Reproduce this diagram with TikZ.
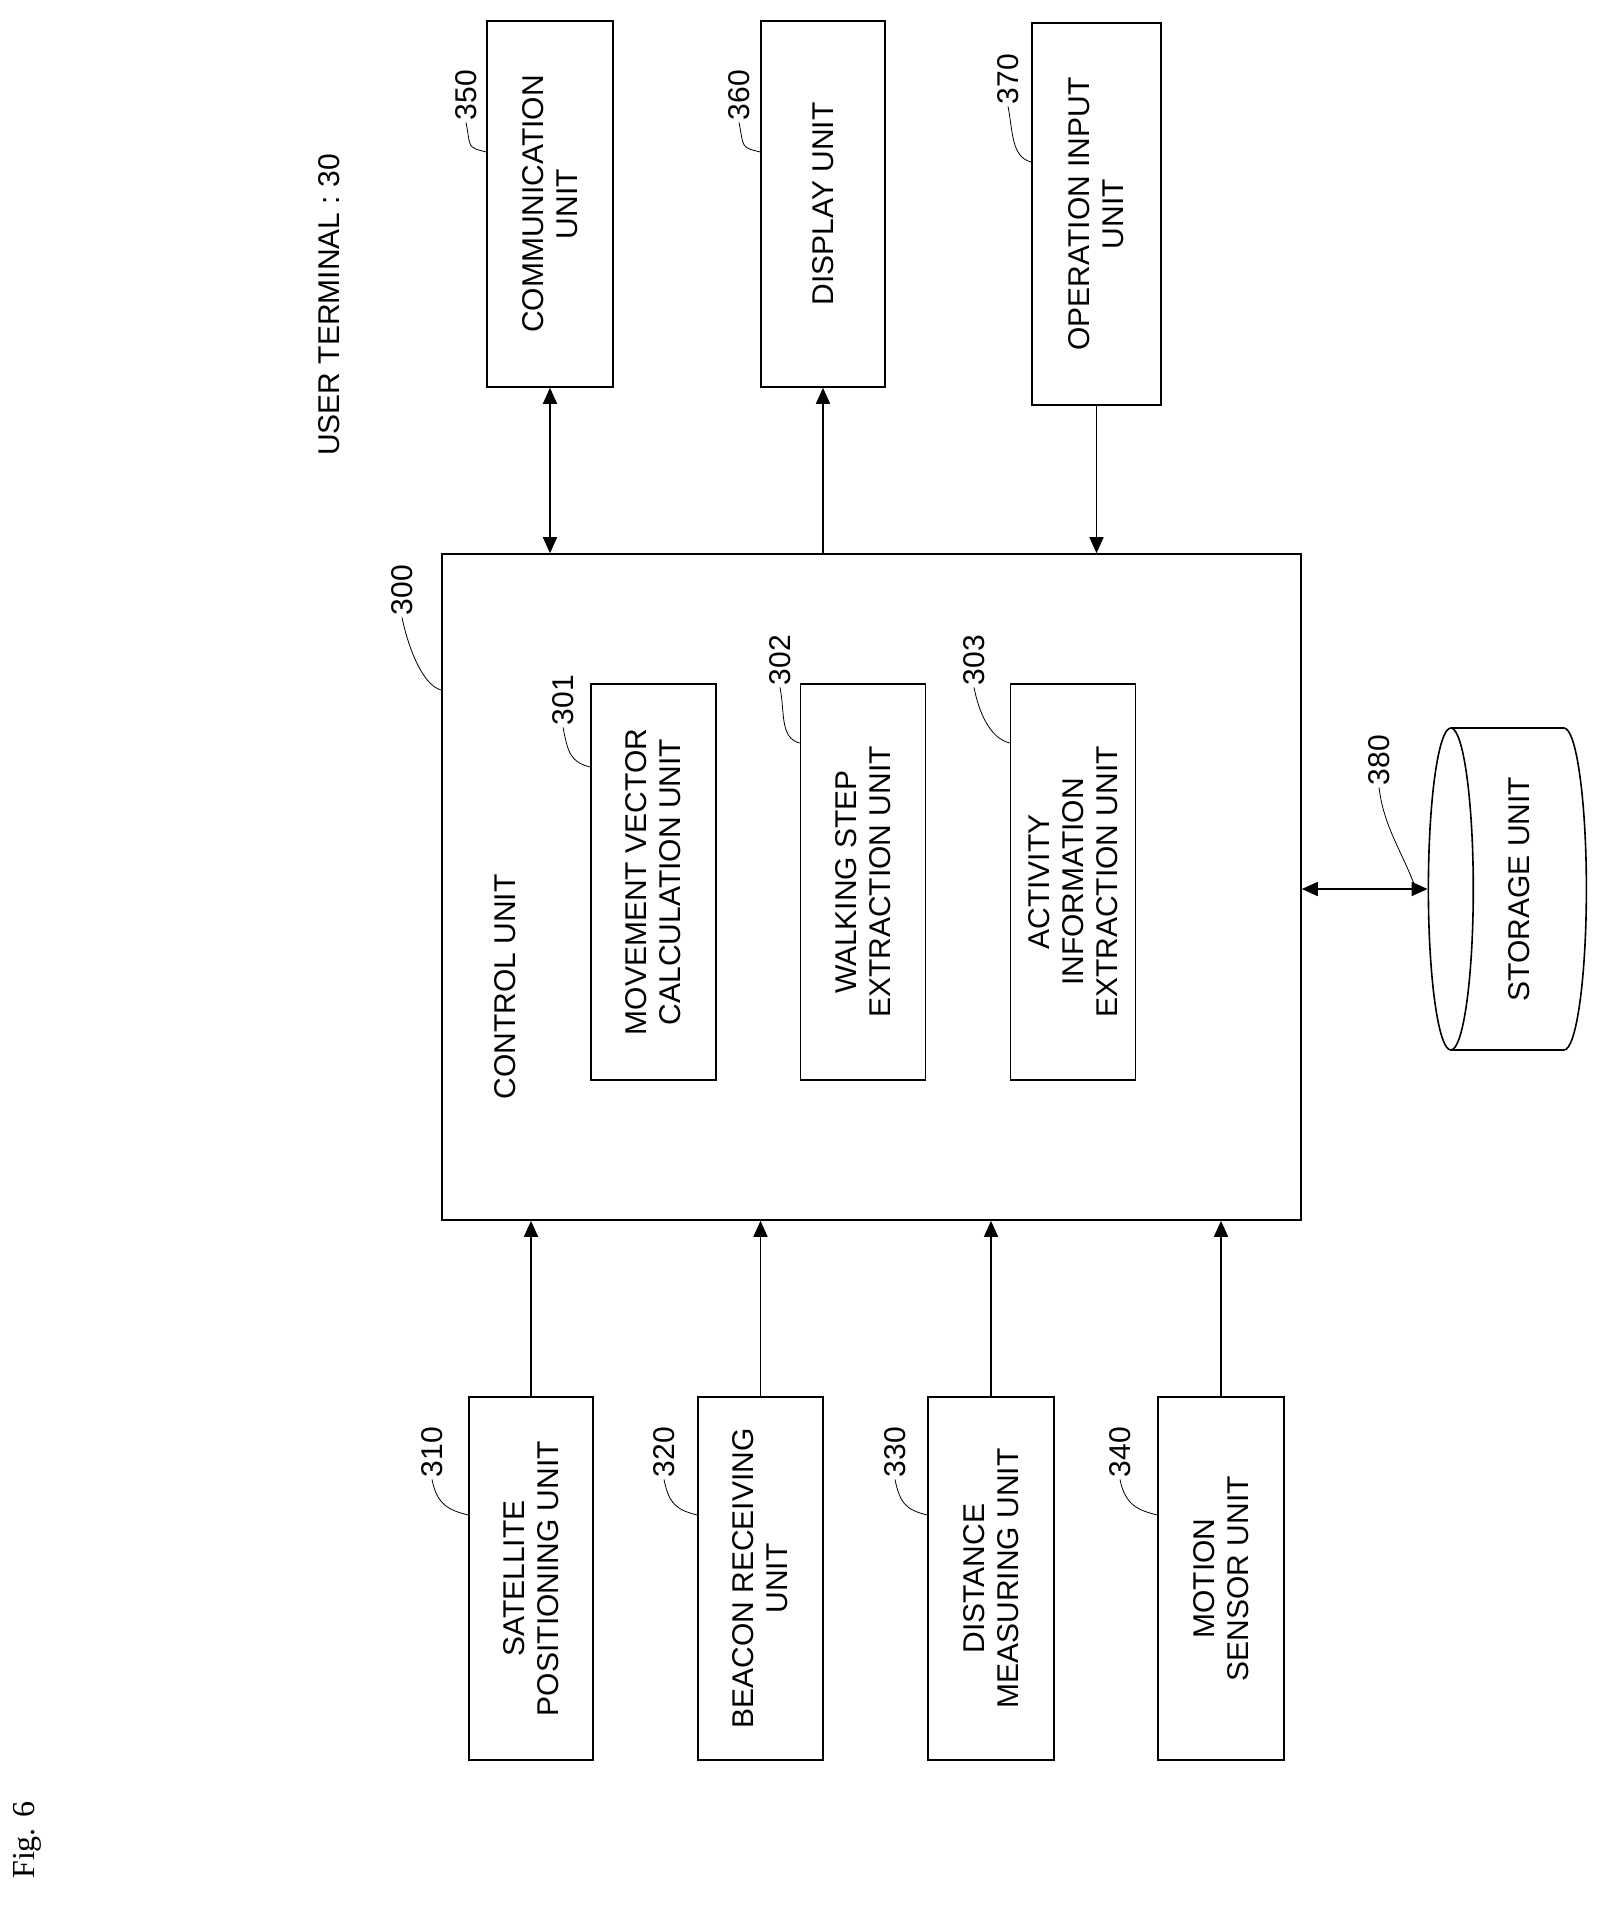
\documentclass[tikz,border=0pt]{standalone}
\usepackage{fontspec}
\setmainfont{Liberation Sans}
\newfontfamily\figfont{Liberation Serif}
\usetikzlibrary{positioning, calc, arrows.meta, shapes.geometric}

\begin{document}
\begin{tikzpicture}[x=0.5pt, y=-0.5pt, font=\fontsize{15}{17}\selectfont,
  unit/.style={draw, thick, rotate=90, align=center, inner sep=0pt},
  num/.style={rotate=90, inner sep=1pt},
  lead/.style={thin},
  link/.style={thick, -{Triangle[length=8pt, width=7pt]}},
  dlink/.style={thick, {Triangle[length=8pt, width=7pt]}-{Triangle[length=8pt, width=7pt]}}]
\useasboundingbox (0,0) rectangle (1620,1913);
% frame title
\node[rotate=90, font=\figfont\fontsize{16}{18}\selectfont] (fig) at (27,1840) {Fig. 6};
\node[rotate=90] (term) at (329,305) {USER TERMINAL : 30};
% control unit
\node[draw, thick, minimum width=429.5pt, minimum height=333pt] (ctrl) at (871.5,887) {};
\node[rotate=90] (ctrltxt) at (505,987) {CONTROL UNIT};
\node[unit, minimum width=198pt, minimum height=62.5pt] (n301) at (653.5,882) {MOVEMENT VECTOR\\CALCULATION UNIT};
\node[unit, minimum width=198pt, minimum height=62.5pt] (n302) at (863,882) {WALKING STEP\\EXTRACTION UNIT};
\node[unit, minimum width=198pt, minimum height=62.5pt] (n303) at (1073,882) {ACTIVITY\\INFORMATION\\EXTRACTION UNIT};
% top units
\node[unit, minimum width=183pt, minimum height=63pt] (n350) at (550,204) {COMMUNICATION\\UNIT};
\node[unit, minimum width=183pt, minimum height=62pt] (n360) at (823,204) {DISPLAY UNIT};
\node[unit, minimum width=191pt, minimum height=64.5pt] (n370) at (1096.5,214) {OPERATION INPUT\\UNIT};
% bottom units
\node[unit, minimum width=181.5pt, minimum height=62pt] (n310) at (531,1578.5) {SATELLITE\\POSITIONING UNIT};
\node[unit, minimum width=181.5pt, minimum height=62.5pt] (n320) at (760.5,1578.5) {BEACON RECEIVING\\UNIT};
\node[unit, minimum width=181.5pt, minimum height=63pt] (n330) at (991,1578.5) {DISTANCE\\MEASURING UNIT};
\node[unit, minimum width=181.5pt, minimum height=63pt] (n340) at (1221,1578.5) {MOTION\\SENSOR UNIT};
% storage
\node[draw, thick, cylinder, rotate=90, shape border rotate=90, aspect=0.2,
  minimum width=161pt, minimum height=79pt, inner sep=0pt] (store) at (1519,889) {STORAGE UNIT};
% arrows
\draw[dlink] (n350) -- (n350 |- ctrl.north);
\draw[link] (ctrl.north -| n360) -- (n360);
\draw[link] (n370) -- (n370 |- ctrl.north);
\draw[link] (n310) -- (n310 |- ctrl.south);
\draw[link] (n320) -- (n320 |- ctrl.south);
\draw[link] (n330) -- (n330 |- ctrl.south);
\draw[link] (n340) -- (n340 |- ctrl.south);
\draw[dlink] (ctrl.east |- store) -- (store);
% reference numerals
\node[num] (l300) at (402,590) {300};
\node[num] (l301) at (563,700) {301};
\node[num] (l302) at (780,660) {302};
\node[num] (l303) at (974,660) {303};
\node[num] (l380) at (1379,760) {380};
\node[num] (l350) at (466,95) {350};
\node[num] (l360) at (739,95) {360};
\node[num] (l370) at (1008,79) {370};
\node[num] (l310) at (432,1452) {310};
\node[num] (l320) at (664,1452) {320};
\node[num] (l330) at (895,1452) {330};
\node[num] (l340) at (1120,1452) {340};
\draw[lead] (l300.west) .. controls +(5,25) and +(-20,-5) .. (ctrl.west |- 0,690);
\draw[lead] (l301.west) .. controls +(5,25) and +(-20,-5) .. (n301.north |- 0,767);
\draw[lead] (l302.west) .. controls +(5,25) and +(-20,-5) .. (n302.north |- 0,743);
\draw[lead] (l303.west) .. controls +(5,25) and +(-20,-5) .. (n303.north |- 0,743);
\draw[lead] (l380.west) .. controls +(5,40) and +(-15,-40) .. (1416,889);
\draw[lead] (l350.west) .. controls +(5,25) and +(-20,-5) .. (n350.north |- 0,152);
\draw[lead] (l360.west) .. controls +(5,25) and +(-20,-5) .. (n360.north |- 0,152);
\draw[lead] (l370.west) .. controls +(5,25) and +(-20,-5) .. (n370.north |- 0,162);
\draw[lead] (l310.west) .. controls +(5,25) and +(-20,-5) .. (n310.north |- 0,1515);
\draw[lead] (l320.west) .. controls +(5,25) and +(-20,-5) .. (n320.north |- 0,1515);
\draw[lead] (l330.west) .. controls +(5,25) and +(-20,-5) .. (n330.north |- 0,1515);
\draw[lead] (l340.west) .. controls +(5,25) and +(-20,-5) .. (n340.north |- 0,1515);
\end{tikzpicture}
\end{document}
